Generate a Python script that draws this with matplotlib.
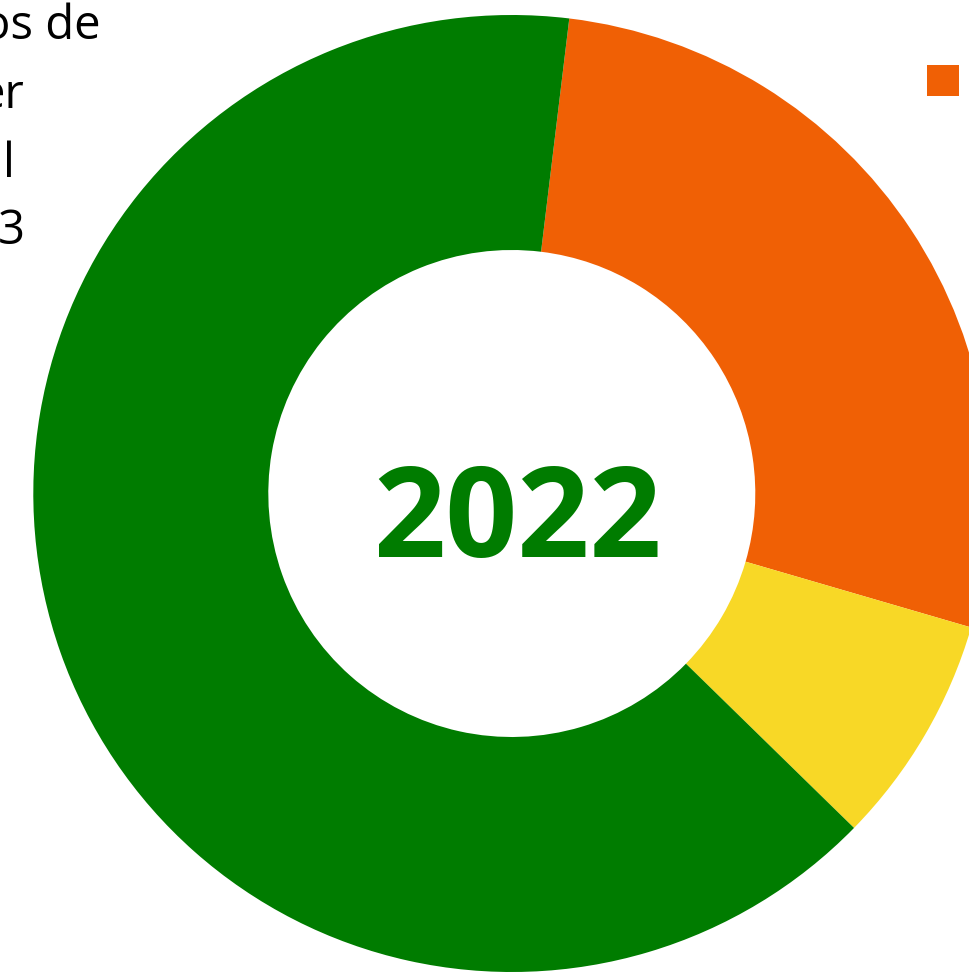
import matplotlib
matplotlib.use("Agg")
import matplotlib.pyplot as plt
from matplotlib.patches import Rectangle

# Data (shares, %)
categories = ["Categoría 1", "Categoría 2", "Categoría 3"]
values = [27.6, 7.8, 64.6]
colors = ["#F06005", "#F8D826", "#007C00"]
center_label = "2022"
title_fragments = ["os de", "er", "l", "3"]

W, H = 970, 972
fig = plt.figure(figsize=(W / 100, H / 100), dpi=100)
ax = fig.add_axes([0, 0, 1, 1])

cx, cy = 511.8, 493.5
R = 478.5
width = 235

# y axis inverted -> counterclock=True draws visually clockwise
ax.pie(values, colors=colors, startangle=-83.1, counterclock=True,
       center=(cx, cy), radius=R, frame=True,
       wedgeprops=dict(width=width, linewidth=0))
ax.set_xlim(0, W)
ax.set_ylim(H, 0)
ax.axis("off")
ax.set_aspect("equal")

ax.text(517.5, 557, center_label, ha="center", va="baseline",
        fontsize=91, fontweight="bold", color="#007C00", family="Open Sans")

baselines = [39, 108, 177, 244]
right_edges = [101, 24, 15, 25]
for t, yb, xr in zip(title_fragments, baselines, right_edges):
    ax.text(xr, yb, t, ha="right", va="baseline", fontsize=34,
            color="black", family="Open Sans")

ax.add_patch(Rectangle((927, 65), 32, 31, color=colors[0], lw=0))

fig.savefig("out.png", dpi=100)
